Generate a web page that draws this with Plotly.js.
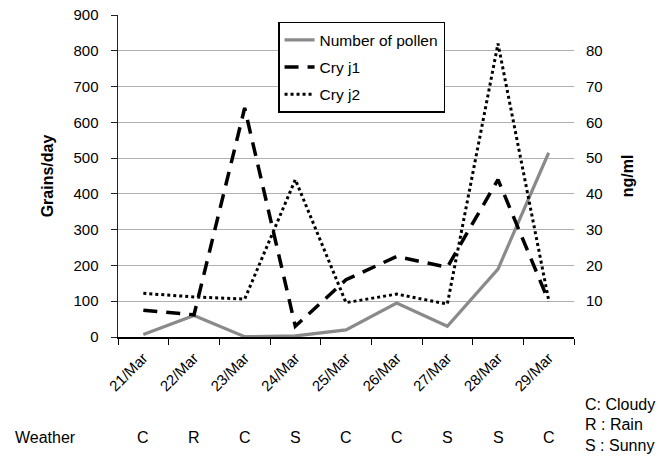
<!DOCTYPE html>
<html>
<head>
<meta charset="utf-8">
<script src="https://cdn.plot.ly/plotly-3.0.1.min.js"></script>
<style>html,body{margin:0;padding:0;background:#fff}#chart{width:668px;height:465px}</style>
</head>
<body>
<div id="chart"></div>
<script>
const dates = ["21/Mar","22/Mar","23/Mar","24/Mar","25/Mar","26/Mar","27/Mar","28/Mar","29/Mar"];
const pollen = [7, 60, 1, 3, 20, 95, 30, 190, 515];
const cryj1 = [7.5, 6.2, 64, 3, 16, 22.5, 19.5, 44, 10];
const cryj2 = [12.2, 11.2, 10.6, 44, 9.6, 12, 9.2, 82, 10.3];
const weather = ["C","R","C","S","C","C","S","S","C"];
const weatherKey = ["C: Cloudy","R : Rain","S : Sunny"];

const FONT = "Liberation Sans, Arial, sans-serif";

const traces = [
  {x: dates, y: pollen, name: "Number of pollen", type: "scatter", mode: "lines", legendgroup: "a",
   line: {color: "#8a8a8a", width: 3.2}, yaxis: "y"},
  {x: dates, y: cryj1, name: "Cry j1", type: "scatter", mode: "lines", legendgroup: "b",
   line: {color: "#000", width: 3.5, dash: "14px,9px"}, yaxis: "y2"},
  {x: dates, y: cryj2, name: "Cry j2", type: "scatter", mode: "lines", legendgroup: "c",
   line: {color: "#000", width: 3, dash: "3px,3px"}, yaxis: "y2"}
];

const annotations = [];
annotations.push({xref: "paper", yref: "paper", x: -0.158, y: -0.311, text: "Weather",
  showarrow: false, xanchor: "center", yanchor: "middle", font: {size: 16, color: "#000"}});
weather.forEach((w, i) => {
  annotations.push({xref: "x", yref: "paper", x: dates[i], y: -0.311, text: w,
    showarrow: false, xanchor: "center", yanchor: "middle", font: {size: 16, color: "#000"}});
});
const keyY = [-0.211, -0.273, -0.337];
weatherKey.forEach((t, i) => {
  annotations.push({xref: "paper", yref: "paper", x: 1.02, y: keyY[i], text: t,
    showarrow: false, xanchor: "left", yanchor: "middle", font: {size: 16, color: "#000"}});
});

const layout = {
  width: 668, height: 465,
  margin: {l: 118, r: 94, t: 15, b: 128},
  paper_bgcolor: "#fff", plot_bgcolor: "#fff",
  font: {family: FONT, color: "#000", size: 14},
  showlegend: true,
  legend: {x: 0.351, y: 0.979, xanchor: "left", yanchor: "top",
    bordercolor: "#000", borderwidth: 1.5, bgcolor: "#fff",
    font: {size: 15.5}, tracegroupgap: 4, traceorder: "grouped"},
  xaxis: {type: "category", range: [-0.5, 8.5], showgrid: false, showline: true, linecolor: "#000", linewidth: 1.5,
    ticks: "outside", ticklen: 6, tickcolor: "#000", tickson: "boundaries",
    tickangle: -45, tickfont: {size: 15}, zeroline: false, ticklabelstandoff: 5},
  yaxis: {range: [0, 900], tickvals: [0,100,200,300,400,500,600,700,800,900],
    showgrid: true, gridcolor: "#b0b0b0", gridwidth: 1,
    showline: true, linecolor: "#222", linewidth: 1.5, ticks: "outside", ticklen: 6, tickcolor: "#222",
    zeroline: false, tickfont: {size: 15}, ticklabelstandoff: 9,
    title: {text: "<b>Grains/day</b>", font: {size: 16}, standoff: 16}},
  yaxis2: {range: [0, 90], tickvals: [10,20,30,40,50,60,70,80], overlaying: "y", side: "right",
    showgrid: false, showline: false, ticks: "", zeroline: false, tickfont: {size: 15}, ticklabelstandoff: 11,
    title: {text: "<b>ng/ml</b>", font: {size: 16}, standoff: 20}},
  annotations: annotations
};

Plotly.newPlot("chart", traces, layout, {displayModeBar: false, staticPlot: true});
</script>
</body>
</html>
